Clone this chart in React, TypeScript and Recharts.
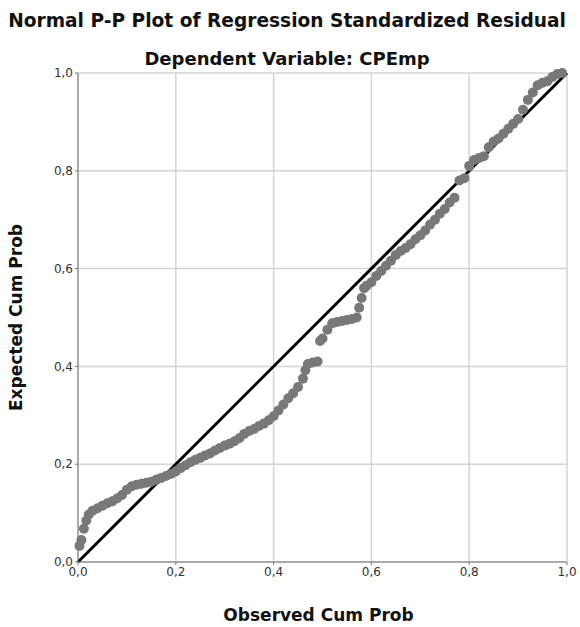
import {
  ScatterChart,
  Scatter,
  XAxis,
  YAxis,
  CartesianGrid,
  ReferenceLine,
} from "recharts";

// Observed cumulative probability (x)
const observed = [
  0.003, 0.007, 0.012, 0.017, 0.022, 0.03, 0.04, 0.05, 0.06, 0.07, 0.08, 0.09,
  0.1, 0.11, 0.12, 0.13, 0.14, 0.15, 0.16, 0.17, 0.18, 0.19, 0.2, 0.21, 0.22,
  0.23, 0.24, 0.25, 0.26, 0.27, 0.28, 0.29, 0.3, 0.31, 0.32, 0.33, 0.34, 0.35,
  0.36, 0.37, 0.38, 0.39, 0.4, 0.41, 0.42, 0.43, 0.44, 0.45, 0.46, 0.465, 0.47,
  0.48, 0.49, 0.495, 0.5, 0.51, 0.52, 0.53, 0.54, 0.55, 0.56, 0.57, 0.575,
  0.58, 0.585, 0.59, 0.6, 0.61, 0.62, 0.63, 0.64, 0.65, 0.66, 0.67, 0.68, 0.69,
  0.7, 0.71, 0.72, 0.73, 0.74, 0.75, 0.76, 0.77, 0.78, 0.79, 0.8, 0.81, 0.82,
  0.83, 0.84, 0.85, 0.86, 0.87, 0.88, 0.89, 0.9, 0.91, 0.92, 0.93, 0.94, 0.95,
  0.96, 0.97, 0.98, 0.99,
];

// Expected cumulative probability (y)
const expected = [
  0.033, 0.045, 0.068, 0.085, 0.097, 0.105, 0.11, 0.115, 0.12, 0.124, 0.13,
  0.137, 0.148, 0.155, 0.158, 0.16, 0.162, 0.164, 0.168, 0.172, 0.176, 0.18,
  0.185, 0.192, 0.198, 0.204, 0.209, 0.213, 0.218, 0.222, 0.228, 0.233, 0.238,
  0.242, 0.247, 0.253, 0.262, 0.268, 0.272, 0.278, 0.283, 0.29, 0.298, 0.31,
  0.322, 0.335, 0.345, 0.358, 0.375, 0.392, 0.405, 0.408, 0.41, 0.452, 0.457,
  0.475, 0.488, 0.491, 0.493, 0.495, 0.497, 0.5, 0.52, 0.54, 0.56, 0.565,
  0.572, 0.585, 0.595, 0.606, 0.616, 0.628, 0.636, 0.642, 0.65, 0.66, 0.668,
  0.678, 0.69, 0.7, 0.712, 0.722, 0.735, 0.745, 0.78, 0.785, 0.81, 0.822,
  0.826, 0.83, 0.848, 0.86, 0.866, 0.876, 0.886, 0.896, 0.906, 0.925, 0.945,
  0.96, 0.975, 0.98, 0.983, 0.992, 0.998, 1.0,
];

const ticks = [0, 0.2, 0.4, 0.6, 0.8, 1.0];

const points = observed.map((x, i) => ({ x, y: expected[i] }));

const FONT = "'DejaVu Sans', sans-serif";
const fmt = (v: number) => v.toFixed(1).replace(".", ",");

const Dot = (props: any) => (
  <circle cx={props.cx} cy={props.cy} r={5} fill="#787878" />
);

const titleStyle: React.CSSProperties = {
  position: "absolute",
  left: 0,
  width: 574,
  textAlign: "center",
  fontWeight: 700,
  color: "#111",
  whiteSpace: "nowrap",
};

export default function App() {
  return (
    <div
      style={{
        position: "absolute",
        left: 0,
        top: 0,
        width: 580,
        height: 627,
        background: "#fff",
        fontFamily: FONT,
      }}
    >
      <div style={{ ...titleStyle, top: 10, fontSize: 18.6 }}>
        Normal P-P Plot of Regression Standardized Residual
      </div>
      <div style={{ ...titleStyle, top: 48, fontSize: 18 }}>
        Dependent Variable: CPEmp
      </div>
      <ScatterChart
        width={580}
        height={627}
        margin={{ top: 73, right: 13, bottom: 0, left: 0 }}
        style={{ position: "absolute", left: 0, top: 0 }}
      >
        <CartesianGrid stroke="#d4d4d4" strokeWidth={1.5} />
        <XAxis
          type="number"
          dataKey="x"
          domain={[0, 1]}
          ticks={ticks}
          tickFormatter={fmt}
          height={65}
          tickSize={3}
          stroke="#777"
          tick={{ fill: "#333", fontSize: 12, fontFamily: FONT }}
          label={{
            value: "Observed Cum Prob",
            position: "insideBottom",
            offset: 6,
            dx: -4,
            fill: "#111",
            fontSize: 17,
            fontWeight: 700,
            fontFamily: FONT,
          }}
        />
        <YAxis
          type="number"
          dataKey="y"
          domain={[0, 1]}
          ticks={ticks}
          tickFormatter={fmt}
          width={78}
          tickSize={3}
          stroke="#777"
          tick={{ fill: "#333", fontSize: 12, fontFamily: FONT }}
          label={{
            value: "Expected Cum Prob",
            angle: -90,
            position: "insideLeft",
            offset: 16,
            style: { textAnchor: "middle" },
            fill: "#111",
            fontSize: 17,
            fontWeight: 700,
            fontFamily: FONT,
          }}
        />
        <Scatter data={points} shape={<Dot />} isAnimationActive={false} />
        <ReferenceLine
          segment={[
            { x: 0, y: 0 },
            { x: 1, y: 1 },
          ]}
          stroke="#000"
          strokeWidth={3}
        />
      </ScatterChart>
    </div>
  );
}
